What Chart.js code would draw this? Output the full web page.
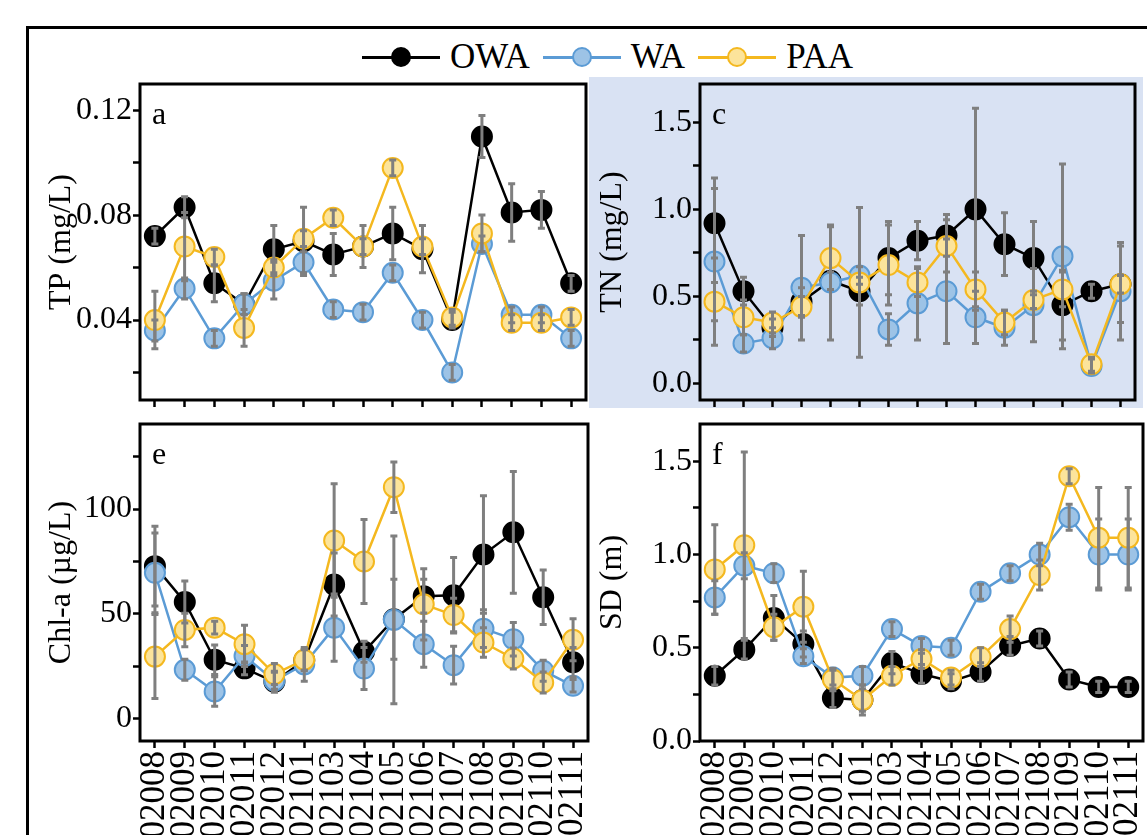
<!DOCTYPE html>
<html>
<head>
<meta charset="utf-8">
<script src="https://cdn.jsdelivr.net/npm/chart.js@4.4.1/dist/chart.umd.min.js"></script>
<style>
    html, body { margin: 0; padding: 0; width: 1147px; height: 835px; overflow: hidden; background: #fff; }
    canvas { position: absolute; }
    #frame { position: absolute; left: 26px; top: 26px; width: 1200px; height: 900px; border-top: 3px solid #000; border-left: 3px solid #000; }
    #tnBg { position: absolute; left: 589px; top: 77px; width: 554px; height: 331px; background: #d9e2f3; }
    #legend { position: absolute; left: 362px; top: 38px; height: 38px; display: flex; align-items: center;
        font-family: "Liberation Serif", serif; font-size: 35px; color: #000; }
    .item { display: flex; align-items: center; margin-right: 13px; }
    .sym { position: relative; width: 78px; height: 22px; margin-right: 10px; }
    .sym .ln { position: absolute; left: 0; right: 0; top: 10px; height: 2.5px; }
    .sym .dot { position: absolute; left: 29px; top: 1px; width: 16px; height: 16px; border-radius: 50%; border: 2px solid; }
</style>
</head>
<body>
<div id="frame"></div>
<div id="tnBg"></div>
<div id="legend"></div>
<canvas id="plot_TP" width="570" height="345" style="left:30px; top:70px"></canvas>
<canvas id="plot_TN" width="555" height="345" style="left:592px; top:70px"></canvas>
<canvas id="plot_Chl" width="572" height="440" style="left:30px; top:410px"></canvas>
<canvas id="plot_SD" width="563" height="440" style="left:592px; top:410px"></canvas>
<script>
// sampling months (202102 missing)
const months = ['202008','202009','202010','202011','202012','202101','202103','202104','202105','202106','202107','202108','202109','202110','202111'];
const groups = ['OWA', 'WA', 'PAA'];

// TP (mg/L)
const tpOWA = [0.072,0.083,0.054,0.046,0.067,0.070,0.065,0.068,0.073,0.067,0.040,0.110,0.081,0.082,0.054];
const tpWA  = [0.036,0.052,0.033,0.046,0.055,0.062,0.044,0.043,0.058,0.040,0.020,0.069,0.042,0.042,0.033];
const tpPAA = [0.040,0.068,0.064,0.037,0.060,0.071,0.079,0.068,0.098,0.068,0.041,0.073,0.039,0.039,0.041];
const tpOWAsd = [0.003,0.004,0.007,0.004,0.009,0.013,0.008,0.008,0.010,0.009,0.003,0.008,0.011,0.007,0.003];
const tpWAsd  = [0.004,0.004,0.003,0.004,0.007,0.004,0.003,0.003,0.003,0.003,0.003,0.003,0.003,0.003,0.003];
const tpPAAsd = [0.011,0.013,0.003,0.007,0.003,0.003,0.003,0.003,0.003,0.003,0.003,0.007,0.003,0.003,0.003];

// TN (mg/L)
const tnOWA = [0.92,0.53,0.32,0.47,0.59,0.53,0.72,0.82,0.85,1.00,0.80,0.72,0.45,0.53,0.57];
const tnWA  = [0.70,0.23,0.26,0.55,0.58,0.62,0.31,0.46,0.53,0.38,0.32,0.45,0.73,0.10,0.53];
const tnPAA = [0.47,0.38,0.35,0.44,0.72,0.58,0.68,0.58,0.79,0.54,0.35,0.48,0.54,0.11,0.57];
const tnOWAsd = [0.20,0.08,0.05,0.08,0.05,0.08,0.21,0.11,0.12,0.58,0.18,0.21,0.20,0.04,0.05];
const tnWAsd  = [0.48,0.05,0.06,0.30,0.33,0.05,0.09,0.21,0.30,0.15,0.10,0.21,0.53,0.04,0.28];
const tnPAAsd = [0.11,0.10,0.06,0.06,0.18,0.43,0.23,0.08,0.15,0.10,0.07,0.05,0.10,0.04,0.22];

// Chl-a (µg/L)
const chlOWA = [72.8,55.7,28.2,24.1,17.7,28,64,32,47.5,58.5,58.9,78.3,88.9,58,27];
const chlWA  = [69.6,23.4,13.1,30,18.2,26,43.5,24,47.2,35.6,25.6,43,38,23,15.8];
const chlPAA = [29.7,42.4,43.5,35.6,21.4,28.2,85,75,110.4,54.6,49.5,36.4,28.8,17.4,37.7];
const chlOWAsd = [19,10,7,3,5,5,15,5,19,8,18,28,29,13,7];
const chlWAsd  = [19,5,7,5,4,8,16,10,40,11,9,9,8,5,3];
const chlPAAsd = [20,8,3,9,5,5,27,20,12,17,8,7,5,5,10];

// SD (m)
const sdOWA = [0.35,0.49,0.66,0.52,0.23,0.22,0.42,0.36,0.32,0.37,0.51,0.55,0.33,0.29,0.29];
const sdWA  = [0.77,0.94,0.90,0.455,0.34,0.35,0.60,0.51,0.50,0.80,0.90,1.00,1.20,1.00,1.00];
const sdPAA = [0.92,1.05,0.61,0.72,0.33,0.22,0.35,0.44,0.34,0.45,0.60,0.89,1.42,1.09,1.09];
const sdOWAsd = [0.05,0.05,0.12,0.07,0.05,0.06,0.06,0.05,0.04,0.05,0.05,0.04,0.04,0.03,0.03];
const sdWAsd  = [0.09,0.07,0.05,0.04,0.04,0.05,0.04,0.04,0.04,0.04,0.04,0.06,0.07,0.19,0.19];
const sdPAAsd = [0.24,0.50,0.07,0.19,0.06,0.08,0.05,0.05,0.04,0.05,0.07,0.08,0.04,0.27,0.27];

// y ticks (major ones get a label)
const tpTicks = [0.02,0.04,0.06,0.08,0.10,0.12];
const tpLabels = [0.04,0.08,0.12];
const tnTicks = [0,0.25,0.5,0.75,1.0,1.25,1.5];
const tnLabels = [0,0.5,1.0,1.5];
const chlTicks = [0,25,50,75,100,125];
const chlLabels = [0,50,100];
const sdTicks = [0,0.25,0.5,0.75,1.0,1.25,1.5];
const sdLabels = [0,0.5,1.0,1.5];

const lineColors = ['#000000', '#5b9bd5', '#f4b81f'];
const fillColors = ['#000000', '#9dc3e6', '#fce49b'];
const FONT = {family: '"Liberation Serif", serif', size: 32};
const XFONT = {family: '"Liberation Serif", serif', size: 35};

function buildLegend() {
    let legend = document.getElementById('legend');
    groups.forEach(function(g, i) {
        let item = document.createElement('div');
        item.className = 'item';
        item.innerHTML = '<div class="sym"><div class="ln" style="background:' + lineColors[i] + '"></div>' +
            '<div class="dot" style="background:' + fillColors[i] + ';border-color:' + lineColors[i] + '"></div></div>' + g;
        legend.appendChild(item);
    });
}

// error bars, panel letter and the box round the plot area
const panelExtras = {
    id: 'panelExtras',
    afterDatasetsDraw(chart) {
        const ctx = chart.ctx;
        const y = chart.scales.y;
        ctx.save();
        ctx.strokeStyle = '#7f7f7f';
        ctx.lineWidth = 3;
        chart.data.datasets.forEach(function(ds, i) {
            const meta = chart.getDatasetMeta(i);
            ds.sd.forEach(function(e, j) {
                const px = meta.data[j].x;
                const top = y.getPixelForValue(ds.data[j] + e);
                const bot = y.getPixelForValue(ds.data[j] - e);
                ctx.beginPath();
                ctx.moveTo(px, top); ctx.lineTo(px, bot);
                ctx.moveTo(px - 3.5, top); ctx.lineTo(px + 3.5, top);
                ctx.moveTo(px - 3.5, bot); ctx.lineTo(px + 3.5, bot);
                ctx.stroke();
            });
        });
        ctx.restore();
    },
    afterDraw(chart, args, opts) {
        const ctx = chart.ctx;
        const a = chart.chartArea;
        ctx.save();
        ctx.strokeStyle = '#000';
        ctx.lineWidth = 3;
        ctx.strokeRect(a.left, a.top, a.right - a.left, a.bottom - a.top);
        ctx.fillStyle = '#000';
        ctx.font = '32px "Liberation Serif", serif';
        ctx.textBaseline = 'alphabetic';
        ctx.fillText(opts.letter, a.left + 12, a.top + 40);
        ctx.restore();
    }
};

function makePanel(id, p) {
    let ctx = document.getElementById(id).getContext('2d');
    let series = [p.owa, p.wa, p.paa];
    let errs = [p.owaSd, p.waSd, p.paaSd];
    return new Chart(ctx, {
        type: 'line',
        data: {
            labels: months,
            datasets: groups.map(function(g, i) {
                return {
                    label: g,
                    data: series[i],
                    sd: errs[i],
                    order: 2 - i,
                    borderColor: lineColors[i],
                    backgroundColor: fillColors[i],
                    pointBackgroundColor: fillColors[i],
                    pointBorderColor: lineColors[i],
                    borderWidth: 2.5,
                    pointRadius: 10,
                    pointHoverRadius: 10,
                    pointBorderWidth: 2,
                    tension: 0,
                    fill: false
                };
            })
        },
        plugins: [panelExtras],
        options: {
            responsive: false,
            animation: false,
            layout: {padding: {top: 14, right: p.padRight, left: 0, bottom: 0}},
            plugins: {
                legend: {display: false},
                tooltip: {enabled: false},
                panelExtras: {letter: p.letter}
            },
            scales: {
                x: {
                    type: 'category',
                    offset: true,
                    border: {display: false},
                    grid: {drawOnChartArea: false, tickLength: 7, tickWidth: 2.5, tickColor: '#000'},
                    ticks: {display: p.showX, autoSkip: false, minRotation: 90, maxRotation: 90, padding: 3, color: '#000', font: XFONT},
                    afterFit: function(s) {
                        s.height = p.xHeight;
                        s.paddingLeft = 0;
                        s.paddingRight = 0;
                    }
                },
                y: {
                    min: p.min,
                    max: p.max,
                    border: {display: false},
                    grid: {drawOnChartArea: false, tickLength: 7, tickWidth: 2.5, tickColor: '#000'},
                    afterBuildTicks: function(s) { s.ticks = p.ticks.map(function(v) { return {value: v}; }); },
                    ticks: {
                        padding: 1,
                        color: '#000',
                        font: FONT,
                        callback: function(v) {
                            return p.labels.some(function(l) { return Math.abs(l - v) < 1e-9; }) ? v.toFixed(p.digits) : '';
                        }
                    },
                    title: {display: true, text: p.title, color: '#000', font: FONT, padding: {top: p.titlePad, bottom: 0}},
                    afterFit: function(s) {
                        s.width = p.yWidth;
                        s.paddingTop = 0;
                        s.paddingBottom = 0;
                    }
                }
            }
        }
    });
}

window.onload = function() {
    buildLegend();

    makePanel('plot_TP', {
        owa: tpOWA, wa: tpWA, paa: tpPAA, owaSd: tpOWAsd, waSd: tpWAsd, paaSd: tpPAAsd,
        min: 0.0095, max: 0.130, ticks: tpTicks, labels: tpLabels, digits: 2,
        title: 'TP (mg/L)', letter: 'a', showX: false, xHeight: 15,
        yWidth: 110, titlePad: 12, padRight: 14
    });
    makePanel('plot_TN', {
        owa: tnOWA, wa: tnWA, paa: tnPAA, owaSd: tnOWAsd, waSd: tnWAsd, paaSd: tnPAAsd,
        min: -0.095, max: 1.72, ticks: tnTicks, labels: tnLabels, digits: 1,
        title: 'TN (mg/L)', letter: 'c', showX: false, xHeight: 15,
        yWidth: 108, titlePad: 1, padRight: 3
    });
    makePanel('plot_Chl', {
        owa: chlOWA, wa: chlWA, paa: chlPAA, owaSd: chlOWAsd, waSd: chlWAsd, paaSd: chlPAAsd,
        min: -10.5, max: 140.5, ticks: chlTicks, labels: chlLabels, digits: 0,
        title: 'Chl-a (µg/L)', letter: 'e', showX: true, xHeight: 109,
        yWidth: 110, titlePad: 12, padRight: 14
    });
    makePanel('plot_SD', {
        owa: sdOWA, wa: sdWA, paa: sdPAA, owaSd: sdOWAsd, waSd: sdWAsd, paaSd: sdPAAsd,
        min: 0, max: 1.70, ticks: sdTicks, labels: sdLabels, digits: 1,
        title: 'SD (m)', letter: 'f', showX: true, xHeight: 109,
        yWidth: 108, titlePad: 1, padRight: 3
    });
};
</script>
</body>
</html>
